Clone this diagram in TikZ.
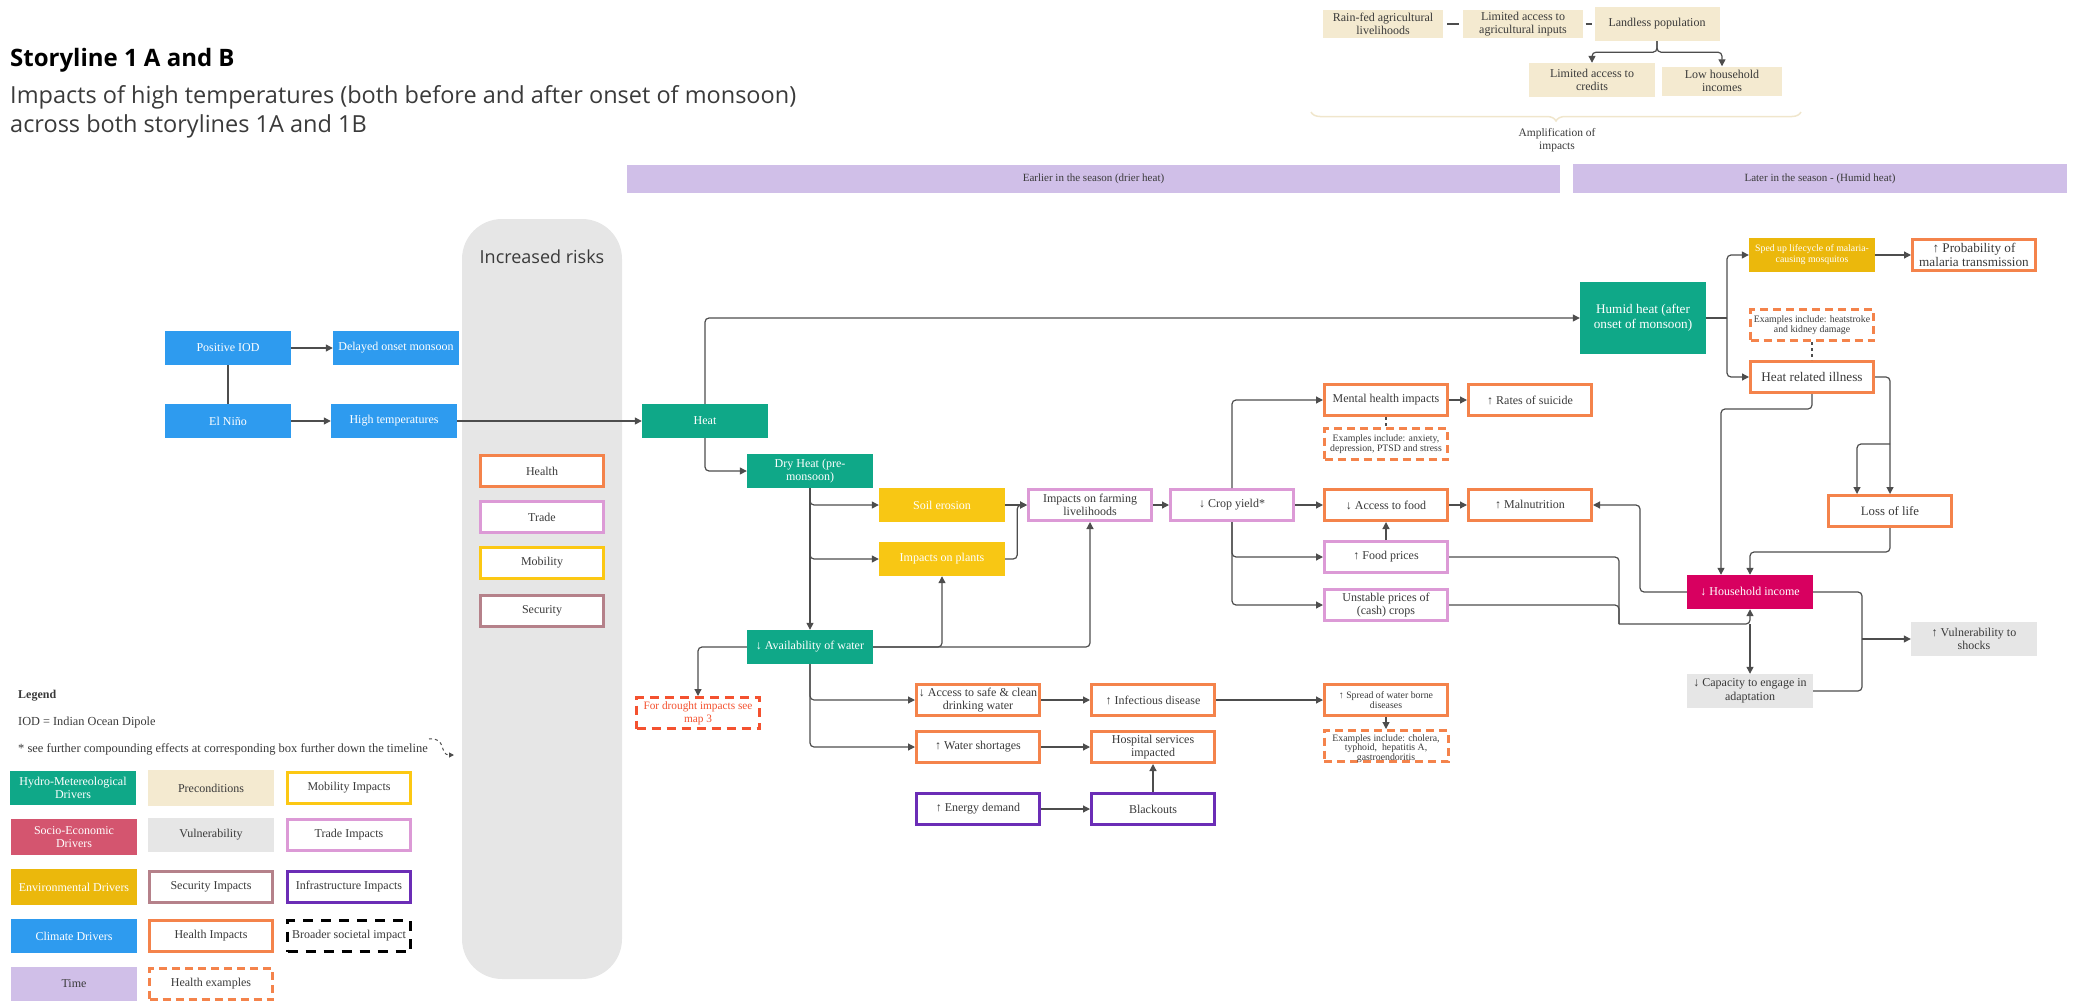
\documentclass[tikz,border=0pt]{standalone}
\usepackage{fontspec}
\setmainfont{Liberation Serif}
\newfontfamily\headfont{Open Sans}
\usetikzlibrary{arrows.meta,decorations.pathreplacing}

\definecolor{cclim}{HTML}{2E9BEF}
\definecolor{chydro}{HTML}{0FA888}
\definecolor{cenv}{HTML}{F8C714}
\definecolor{cenvd}{HTML}{EBB80C}
\definecolor{csocio}{HTML}{D4556F}
\definecolor{cincome}{HTML}{D80060}
\definecolor{cprecond}{HTML}{F4EAD0}
\definecolor{cvuln}{HTML}{E6E6E6}
\definecolor{ctime}{HTML}{D0BFE8}
\definecolor{chealth}{HTML}{F4834B}
\definecolor{ctrade}{HTML}{DC9AD6}
\definecolor{cmobil}{HTML}{FCC813}
\definecolor{csecur}{HTML}{B5818A}
\definecolor{cinfra}{HTML}{6B2DB6}
\definecolor{cdrought}{HTML}{F4512F}
\definecolor{cline}{HTML}{4D4D4D}
\definecolor{ctxt}{HTML}{3A3A3A}
\definecolor{cbrace}{HTML}{F0E6CC}

\tikzset{
  base/.style={rectangle, inner sep=1pt, align=center, text=ctxt,
    font=\fontsize{12}{13.5}\selectfont},
  filled/.style={base, minimum width=126pt, minimum height=34pt, text=white},
  clim/.style={filled, fill=cclim},
  hydro/.style={filled, fill=chydro},
  env/.style={filled, fill=cenv},
  envd/.style={filled, fill=cenvd},
  sociob/.style={filled, fill=csocio},
  incomeb/.style={filled, fill=cincome},
  precondb/.style={base, fill=cprecond, minimum width=126pt, minimum height=34pt},
  vulnb/.style={base, fill=cvuln, minimum width=126pt, minimum height=34pt},
  timeb/.style={base, fill=ctime, font=\fontsize{11}{12}\selectfont},
  outl/.style={base, fill=white, line width=3pt, minimum width=123pt, minimum height=31pt},
  healthb/.style={outl, draw=chealth},
  tradeb/.style={outl, draw=ctrade},
  mobilb/.style={outl, draw=cmobil},
  securb/.style={outl, draw=csecur},
  infrab/.style={outl, draw=cinfra},
  broadb/.style={outl, draw=black, dash pattern=on 10pt off 8pt},
  hexample/.style={outl, draw=chealth, dash pattern=on 8pt off 5pt,
    font=\fontsize{9.8}{10.6}\selectfont},
  small/.style={font=\fontsize{9.8}{10.8}\selectfont},
  big/.style={font=\fontsize{13.2}{14.5}\selectfont},
  headline/.style={anchor=base west, inner sep=0, text=ctxt,
    font=\headfont\fontsize{23.5}{29}\selectfont},
  arr/.style={draw=cline, line width=1.2pt, rounded corners=4pt,
    -{Triangle[length=7pt,width=7pt]}},
  link/.style={draw=cline, line width=1.2pt, rounded corners=4pt},
}

\begin{document}
\begin{tikzpicture}[x=1pt,y=-1pt]
\useasboundingbox (0,0) rectangle (2075,1001);

% ---------- heading ----------
\node[headline, text=black, font=\headfont\bfseries\fontsize{24}{28}\selectfont]
  (title) at (10,66) {Storyline 1 A and B};
\node[headline] (subtitle1) at (10,103) {Impacts of high temperatures (both before and after onset of monsoon)};
\node[headline] (subtitle2) at (10,132) {across both storylines 1A and 1B};

% ---------- preconditions (top) ----------
\node[precondb, minimum width=120pt, minimum height=28pt] (rainfed) at (1383,24) {Rain-fed agricultural\\livelihoods};
\node[precondb, minimum width=120pt, minimum height=28pt] (inputs) at (1523,24) {Limited access to\\agricultural inputs};
\node[precondb, minimum width=125pt] (landless) at (1657,24) {Landless population};
\node[precondb] (credits) at (1592,80) {Limited access to\\credits};
\node[precondb, minimum width=120pt, minimum height=29pt] (lowinc) at (1722,81) {Low household\\incomes};
\draw[link, shorten <=4pt, shorten >=4pt] (rainfed) -- (inputs);
\draw[link, shorten <=2.5pt, shorten >=2.5pt] (inputs) -- (landless);
\draw[arr] (landless.south) -- ++(0,11) -| (credits.north);
\draw[arr] (landless.south) -- ++(0,11) -| (lowinc.north);
\coordinate (brl) at (1311,112);
\coordinate (brr) at (1801,112);
\draw[cbrace, line width=1.5pt, decorate, decoration={brace, mirror, amplitude=9pt}] (brl) -- (brr);
\node[base, font=\fontsize{11.5}{13}\selectfont] (ampl) at (1557,140) {Amplification of\\impacts};

% ---------- time bars ----------
\node[timeb, minimum width=933pt, minimum height=28pt] (early) at (1093.5,179) {Earlier in the season (drier heat)};
\node[timeb, minimum width=494pt, minimum height=29pt] (late) at (1820,178.5) {Later in the season - (Humid heat)};

% ---------- increased risks column ----------
\fill[cvuln, rounded corners=40pt] (462,219) rectangle (622,979);
\node[text=ctxt, font=\headfont\fontsize{18}{20}\selectfont] (risks) at (542,257) {Increased risks};
\node[healthb] (rhealth) at (542,471) {Health};
\node[tradeb] (rtrade) at (542,517) {Trade};
\node[mobilb] (rmobil) at (542,563) {Mobility};
\node[securb] (rsecur) at (542,611) {Security};

% ---------- climate drivers ----------
\node[clim] (piod) at (228,348) {Positive IOD};
\node[clim] (delay) at (396,348) {Delayed onset monsoon};
\node[clim] (nino) at (228,421) {El Niño};
\node[clim] (hight) at (394,421) {High temperatures};
\draw[arr] (piod) -- (delay);
\draw[arr] (nino) -- (hight);
\draw[link] (piod) -- (nino);

% ---------- heat chain ----------
\node[hydro] (heat) at (705,421) {Heat};
\node[hydro] (dry) at (810,471) {Dry Heat (pre-\\monsoon)};
\node[hydro] (water) at (810,647) {↓ Availability of water};
\node[hydro, big, minimum height=72pt] (humid) at (1643,318) {Humid heat (after\\onset of monsoon)};
\draw[arr] (hight) -- (heat);
\draw[arr] (heat.north) |- (humid.west);
\draw[arr] (heat.south) |- (dry.west);

\node[env] (soil) at (942,505) {Soil erosion};
\node[env] (plants) at (942,559) {Impacts on plants};
\draw[arr] (dry.south) |- (soil.west);
\draw[arr] (dry.south) |- (plants.west);
\draw[arr] (dry.south) -- (water.north);

\node[tradeb] (farm) at (1090,505) {Impacts on farming\\livelihoods};
\node[tradeb] (crop) at (1232,505) {↓ Crop yield*};
\draw[arr] (soil) -- (farm);
\draw[arr] (plants.east) -- ++(12,0) |- (farm.west);
\draw[arr] (water.east) -| (plants.south);
\draw[arr] (water.east) -| (farm.south);
\draw[arr] (farm) -- (crop);

\node[outl, draw=cdrought, text=cdrought, dash pattern=on 9pt off 6pt,
  font=\fontsize{11.3}{12.8}\selectfont] (drought) at (698,713) {For drought impacts see\\map 3};
\draw[arr] (water.west) -| (drought.north);

% ---------- water and health ----------
\node[healthb] (safe) at (978,700) {↓ Access to safe \& clean\\drinking water};
\node[healthb] (infect) at (1153,700) {↑ Infectious disease};
\node[healthb] (short) at (978,747) {↑ Water shortages};
\node[healthb] (hosp) at (1153,747) {Hospital services\\impacted};
\node[infrab] (energy) at (978,809) {↑ Energy demand};
\node[infrab] (blackout) at (1153,809) {Blackouts};
\draw[arr] (water.south) |- (safe.west);
\draw[arr] (water.south) |- (short.west);
\draw[arr] (safe) -- (infect);
\draw[arr] (short) -- (hosp);
\draw[arr] (energy) -- (blackout);
\draw[arr] (blackout) -- (hosp);

\node[healthb, small] (spread) at (1386,700) {↑ Spread of water borne\\diseases};
\node[hexample, inner sep=0pt, font=\fontsize{9.8}{9.7}\selectfont] (exspread) at (1386,746)
  {\raisebox{-5pt}[0pt][0pt]{\parbox{124pt}{\centering Examples include: cholera,\\typhoid,~ hepatitis A,\\gastroendoritis}}};
\draw[arr] (infect) -- (spread);
\draw[arr] (spread) -- (exspread);

% ---------- crop yield consequences ----------
\node[healthb] (mental) at (1386,400) {Mental health impacts};
\node[healthb] (suicide) at (1530,400) {↑ Rates of suicide};
\node[hexample] (exmental) at (1386,444) {Examples include: anxiety,\\depression, PTSD and stress};
\node[healthb] (food) at (1386,505) {↓ Access to food};
\node[healthb] (malnut) at (1530,505) {↑ Malnutrition};
\node[tradeb] (fprice) at (1386,557) {↑ Food prices};
\node[tradeb] (unstable) at (1386,605) {Unstable prices of\\(cash) crops};
\draw[arr] (crop.north) |- (mental.west);
\draw[arr] (crop) -- (food);
\draw[arr] (crop.south) |- (fprice.west);
\draw[arr] (crop.south) |- (unstable.west);
\draw[arr] (mental) -- (suicide);
\draw[link, dashed] (mental) -- (exmental);
\draw[arr] (food) -- (malnut);
\draw[arr] (fprice) -- (food);

% ---------- humid heat branch ----------
\node[envd, small] (sped) at (1812,255) {Sped up lifecycle of malaria-\\causing mosquitos};
\node[healthb, big] (prob) at (1974,255) {↑ Probability of\\malaria transmission};
\node[hexample] (exheat) at (1812,325) {Examples include: heatstroke\\and kidney damage};
\node[healthb, big] (illness) at (1812,377) {Heat related illness};
\node[healthb, font=\fontsize{12.8}{14}\selectfont] (loss) at (1890,511) {Loss of life};
\coordinate (hsplit) at (1727,318);
\draw[link] (humid.east) -- (hsplit);
\draw[arr] (hsplit) |- (sped.west);
\draw[arr] (hsplit) |- (illness.west);
\draw[arr] (sped) -- (prob);
\draw[link, dashed] (exheat) -- (illness);
\draw[arr] (illness.east) -| (loss.north);
\coordinate (lsplit) at (1890,444);
\draw[arr] (lsplit) -| ([xshift=-33pt]loss.north);

% ---------- household income ----------
\node[incomeb] (income) at (1750,592) {↓ Household income};
\node[vulnb] (capacity) at (1750,691) {↓ Capacity to engage in\\adaptation};
\node[vulnb] (vuln) at (1974,639) {↑ Vulnerability to\\shocks};
\draw[arr] (illness.south) -- ++(0,15) -| ([xshift=-29pt]income.north);
\draw[arr] (loss.south) -- ++(0,24) -| (income.north);
\coordinate (pjoin) at (1619,624);
\coordinate (cjoin) at (1750,624);
\draw[link] (fprice.east) -| (pjoin);
\draw[link] (unstable.east) -| (pjoin);
\draw[arr] (pjoin) -| (income.south);
\draw[arr] (cjoin) -- (capacity.north);
\coordinate (mjoin) at (1640,505);
\draw[arr] (income.west) -| (mjoin) -- (malnut.east);
\coordinate (vjoin) at (1862,639);
\draw[link] (income.east) -| (vjoin);
\draw[link] (capacity.east) -| (vjoin);
\draw[arr] (vjoin) -- (vuln.west);

% ---------- legend ----------
\node[anchor=west, inner sep=0, text=ctxt, font=\bfseries\fontsize{12}{14}\selectfont] (legtitle) at (18,696) {Legend};
\node[anchor=west, inner sep=0, text=ctxt, font=\fontsize{12.3}{14}\selectfont] (legiod) at (18,723) {IOD = Indian Ocean Dipole};
\node[anchor=west, inner sep=0, text=ctxt, font=\fontsize{12.5}{14}\selectfont] (legnote) at (18,749) {* see further compounding effects at corresponding box further down the timeline};
\coordinate (na) at (429,739);
\coordinate (nb) at (454,755);
\draw[cline, line width=1pt, dashed, -{Triangle[length=5pt,width=5pt]}] (na) .. controls (447,737) and (439,755) .. (nb);

\node[hydro] (lhydro) at (73,788) {Hydro-Metereological\\Drivers};
\node[sociob, minimum height=36pt] (lsocio) at (74,837) {Socio-Economic\\Drivers};
\node[envd, minimum height=36pt] (lenv) at (74,887) {Environmental Drivers};
\node[clim] (lclim) at (74,936) {Climate Drivers};
\node[filled, fill=ctime, text=ctxt] (ltime) at (74,984) {Time};

\node[precondb, minimum height=36pt] (lprecond) at (211,788) {Preconditions};
\node[vulnb] (lvuln) at (211,835) {Vulnerability};
\node[securb] (lsecur) at (211,887) {Security Impacts};
\node[healthb] (lhealth) at (211,936) {Health Impacts};
\node[hexample, font=\fontsize{12}{13.5}\selectfont] (lhex) at (211,984) {Health examples};

\node[mobilb] (lmobil) at (349,788) {Mobility Impacts};
\node[tradeb] (ltrade) at (349,835) {Trade Impacts};
\node[infrab] (linfra) at (349,887) {Infrastructure Impacts};
\node[broadb] (lbroad) at (349,936) {Broader societal impact};
\end{tikzpicture}
\end{document}
